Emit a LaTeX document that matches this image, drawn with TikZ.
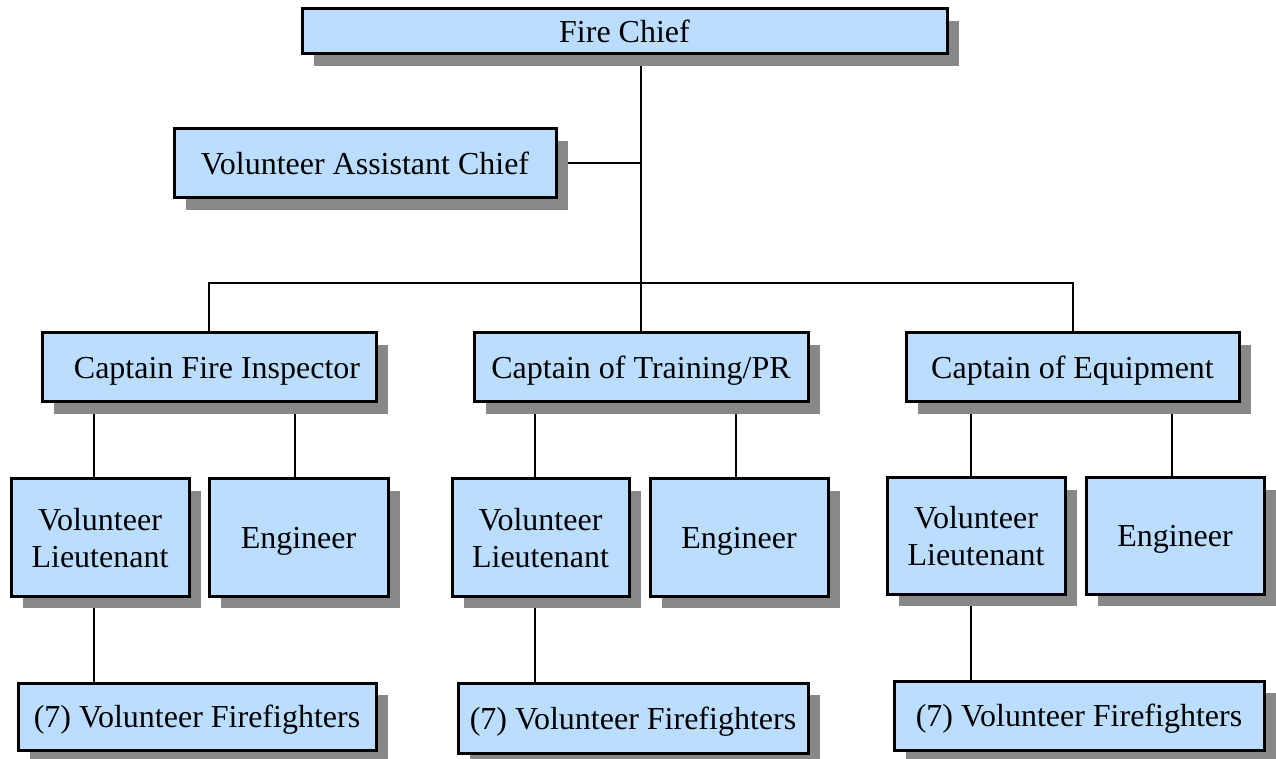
\documentclass[tikz,border=0pt]{standalone}
\usepackage{fontspec}
\setmainfont{Liberation Serif}
\usepackage{tikz}
\usetikzlibrary{shadows}
\usetikzlibrary{backgrounds}
\definecolor{boxblue}{HTML}{BBDDFF}
\definecolor{boxshade}{HTML}{888888}
\tikzset{
  post/.style={draw=black, line width=1.5pt, fill=boxblue, inner sep=0pt, outer sep=0pt,
    align=center, text depth=0pt, font=\fontsize{16}{18.5}\selectfont,
    drop shadow={shadow xshift=6pt, shadow yshift=-6pt, fill=boxshade, opacity=1}},
  link/.style={line width=1pt, black}
}

\begin{document}
\begin{tikzpicture}[x=0.5pt,y=-0.5pt]
\useasboundingbox (0,0) rectangle (1276,759);
% top of the chart
\node[post, minimum width=322.5pt, minimum height=22.5pt] (chief) at (624.5,31.5) {Fire Chief};
\node[post, minimum width=191pt, minimum height=34.5pt] (vac) at (365,163.5) {Volunteer Assistant Chief};
% captains
\node[post, minimum width=167pt, minimum height=34.5pt] (cfi) at (209,367.5) {\hspace*{8pt}Captain Fire Inspector};
\node[post, minimum width=167pt, minimum height=34.5pt] (ctr) at (641,367.5) {Captain of Training/PR};
\node[post, minimum width=166.5pt, minimum height=34.5pt] (ceq) at (1072.5,367.5) {Captain of Equipment};
% lieutenants and engineers
\node[post, minimum width=89pt, minimum height=58.5pt] (vl1) at (100,537.5) {Volunteer\\Lieutenant};
\node[post, minimum width=89.5pt, minimum height=58.5pt] (en1) at (298.5,537.5) {Engineer};
\node[post, minimum width=88.5pt, minimum height=58.5pt] (vl2) at (540.5,537.5) {Volunteer\\Lieutenant};
\node[post, minimum width=89pt, minimum height=58.5pt] (en2) at (739,537.5) {Engineer};
\node[post, minimum width=89pt, minimum height=58pt] (vl3) at (976,536) {Volunteer\\Lieutenant};
\node[post, minimum width=89pt, minimum height=58pt] (en3) at (1175,536) {Engineer};
% firefighters
\node[post, minimum width=179pt, minimum height=33.5pt] (ff1) at (197,716.5) {(7) Volunteer Firefighters};
\node[post, minimum width=175pt, minimum height=35pt] (ff2) at (633,718) {(7) Volunteer Firefighters};
\node[post, minimum width=185pt, minimum height=34.5pt] (ff3) at (1079,715.5) {(7) Volunteer Firefighters};
% where the lines run
\coordinate (bus) at (641,283);
\coordinate (c1) at (94,0);
\coordinate (c2) at (295,0);
\coordinate (c3) at (535,0);
\coordinate (c4) at (736,0);
\coordinate (c5) at (971,0);
\coordinate (c6) at (1172,0);
\begin{scope}[on background layer]
\draw[link] (chief.south -| bus) -- (ctr.north);
\draw[link] (vac.east) -- (vac.east -| bus);
\draw[link] (cfi.north) |- (bus) -| (ceq.north);
\draw[link] (cfi.south -| c1) -- (vl1.north -| c1);
\draw[link] (cfi.south -| c2) -- (en1.north -| c2);
\draw[link] (ctr.south -| c3) -- (vl2.north -| c3);
\draw[link] (ctr.south -| c4) -- (en2.north -| c4);
\draw[link] (ceq.south -| c5) -- (vl3.north -| c5);
\draw[link] (ceq.south -| c6) -- (en3.north -| c6);
\draw[link] (vl1.south -| c1) -- (ff1.north -| c1);
\draw[link] (vl2.south -| c3) -- (ff2.north -| c3);
\draw[link] (vl3.south -| c5) -- (ff3.north -| c5);
\end{scope}
\end{tikzpicture}
\end{document}
